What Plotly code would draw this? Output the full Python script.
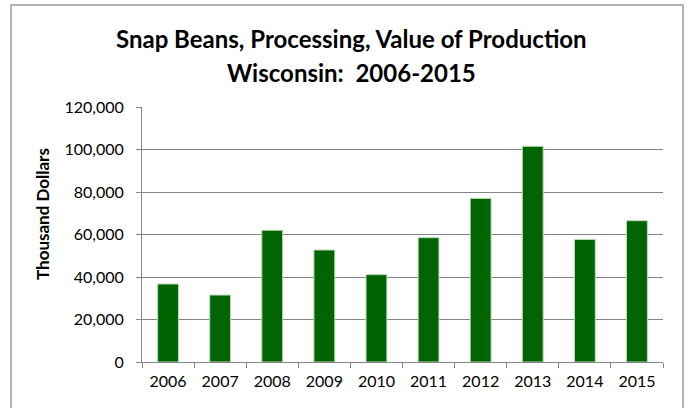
import plotly.graph_objects as go

years = ["2006", "2007", "2008", "2009", "2010", "2011", "2012", "2013", "2014", "2015"]
values = [36700, 31500, 62000, 52700, 41100, 58500, 77000, 101500, 57700, 66500]
y_ticks = [0, 20000, 40000, 60000, 80000, 100000, 120000]
y_tick_labels = ["0", "20,000", "40,000", "60,000", "80,000", "100,000", "120,000"]

title_line1 = "Snap Beans, Processing, Value of Production"
title_line2 = "Wisconsin:  2006-2015"
y_title = "Thousand Dollars"

W, H = 689, 408
# plot area in page pixels
PL, PR, PT, PB = 142, 663, 107, 362
L, T, R, B = PL, PT, W - PR, H - PB
pw, ph = PR - PL, PB - PT

def px_x(p):
    return (p - PL) / pw

def px_y(p):
    return (PB - p) / ph

FONT = "Lato, Carlito, Calibri, sans-serif"

fig = go.Figure(go.Bar(
    x=years, y=values,
    marker=dict(color="#006400", line=dict(color="#b9d9b9", width=1)),
))

fig.update_layout(
    width=W, height=H,
    margin=dict(l=L, r=R, t=T, b=B),
    paper_bgcolor="white", plot_bgcolor="white",
    bargap=0.6,
    showlegend=False,
    font=dict(family=FONT, size=16, color="#000000"),
    xaxis=dict(
        type="category",
        showline=True, linecolor="#868686", linewidth=1,
        ticks="outside", tickson="boundaries", ticklen=5, tickcolor="#868686",
        showgrid=False,
        ticklabelstandoff=5,
        tickfont=dict(size=16, family=FONT),
    ),
    yaxis=dict(
        range=[0, 120000],
        tickvals=y_ticks, ticktext=y_tick_labels,
        showline=True, linecolor="#868686", linewidth=1,
        ticks="outside", ticklen=5, tickcolor="#868686",
        showgrid=True, gridcolor="#868686", gridwidth=1,
        zeroline=False,
        ticklabelstandoff=9,
        tickfont=dict(size=16, family=FONT),
    ),
    shapes=[dict(
        type="rect", xref="paper", yref="paper",
        x0=px_x(11), x1=px_x(683), y0=px_y(420), y1=px_y(5),
        line=dict(color="#b4b4b4", width=2), fillcolor="rgba(0,0,0,0)", layer="below",
    )],
    annotations=[
        dict(text="<b>" + title_line1 + "</b>", xref="paper", yref="paper",
             x=px_x(351), y=px_y(38), showarrow=False, xanchor="center", yanchor="middle",
             font=dict(size=24, family=FONT, color="#000000")),
        dict(text="<b>" + title_line2 + "</b>", xref="paper", yref="paper",
             x=px_x(351), y=px_y(72), showarrow=False, xanchor="center", yanchor="middle",
             font=dict(size=24, family=FONT, color="#000000")),
        dict(text="<b>" + y_title + "</b>", xref="paper", yref="paper",
             x=px_x(42), y=px_y(214), showarrow=False, textangle=-90,
             xanchor="center", yanchor="middle",
             font=dict(size=17, family=FONT, color="#000000")),
    ],
)

fig.write_html(
    "out.html",
    config={"displayModeBar": False},
    post_script="document.body.style.margin='0';document.body.style.overflow='hidden';",
)
